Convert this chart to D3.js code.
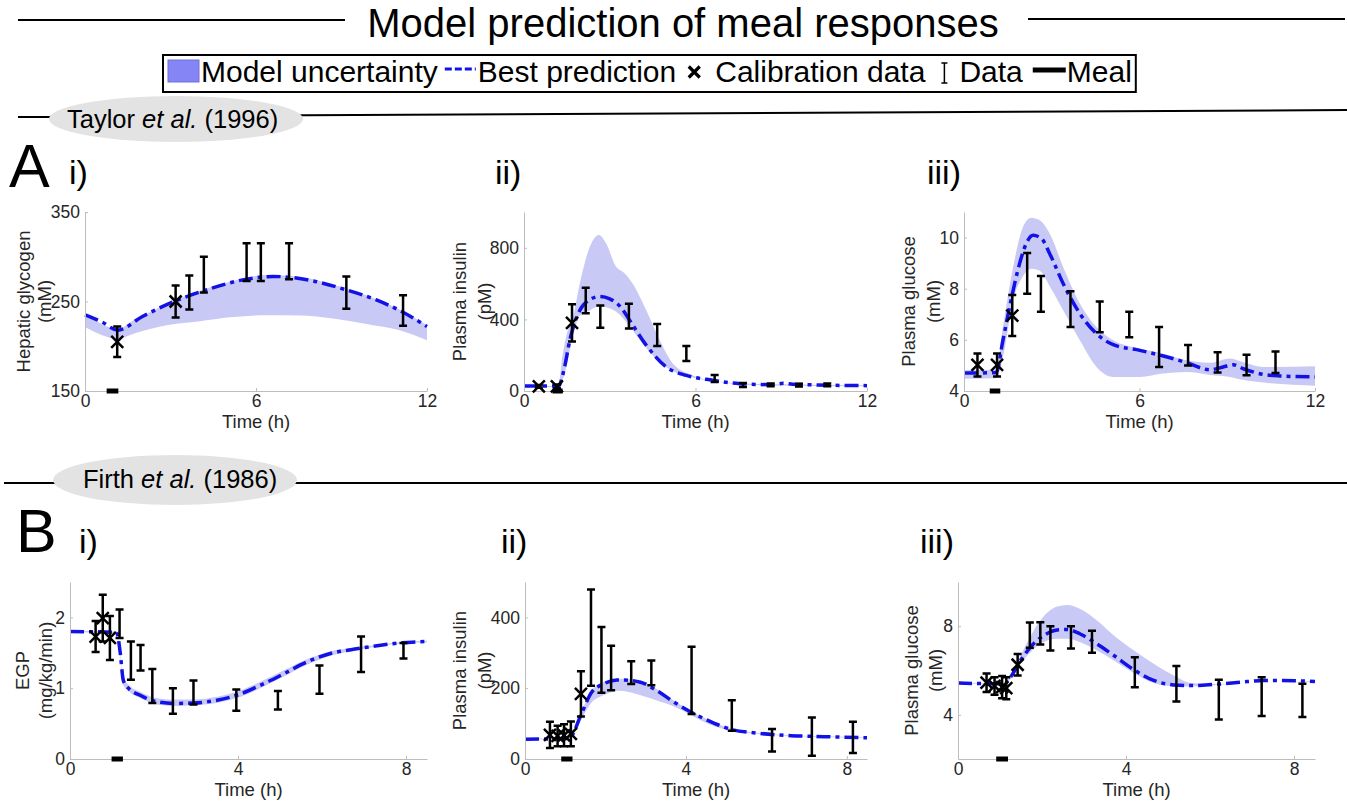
<!DOCTYPE html>
<html>
<head>
<meta charset="utf-8">
<script src="https://cdn.jsdelivr.net/npm/d3@7"></script>
<style>
  body { margin: 0; background: #fff; }
  svg { font-family: "Liberation Sans", Arial, sans-serif; }
  .axis path, .axis line { stroke: #bdbdbd; }
  .axis text { fill: #262626; font-size: 17.5px; font-family: "Liberation Sans", Arial, sans-serif; }
</style>
</head>
<body>
<svg id="fig" width="1347" height="805"></svg>
<script>
'use strict';

// ---------- A i) Taylor, hepatic glycogen ----------
var a1Time = [1.13, 3.18, 3.66, 4.17, 5.67, 6.17, 7.16, 9.17, 11.16];
var a1Mean = [205, 250, 260, 280, 294, 294, 295, 260, 240];
var a1Sd = [17, 18, 19, 20, 21, 21, 20, 18, 17];
var a1NCalib = 2;
var a1PredTime = [0, 0.6, 1.15, 2, 3.2, 4.26, 5.67, 6.6, 7.2, 8, 9.17, 10.2, 11.16, 12];
var a1PredVal = [235, 227, 218, 233, 251, 263, 275, 278, 277, 273, 263, 252, 238, 222];
var a1BandTime = [0, 1.17, 1.7, 2.86, 4.03, 5.2, 6.37, 7.54, 8.7, 9.87, 11.04, 12];
var a1BandLow = [221.5, 208.5, 214, 223.4, 228, 232.6, 234.7, 234.3, 231, 225, 217.8, 206.6];
var a1BandHigh = [236.5, 219.5, 229, 247, 262, 273, 279.5, 277.5, 269, 257, 241, 223.5];
var a1Meal = [0.76, 1.17];

// ---------- A ii) Taylor, plasma insulin ----------
var a2Time = [0.52, 1.15, 1.68, 2.16, 2.67, 3.67, 4.66, 5.68, 6.67, 7.66, 8.63, 9.62, 10.61];
var a2Mean = [26, 26, 380, 506, 416, 418, 313, 209, 70, 33, 34, 33, 34];
var a2Sd = [8, 10, 104, 71, 62, 69, 62, 42, 20, 11, 8, 8, 8];
var a2NCalib = 3;
var a2PredTime = [0, 1.0, 1.2, 1.42, 1.6, 1.75, 1.95, 2.3, 2.65, 3.0, 3.4, 3.7, 4.28, 4.98, 5.68, 6.6, 7.55, 8.7, 9.06, 9.4, 9.9, 12];
var a2PredVal = [28, 28, 25, 134, 283, 370, 450, 510, 528, 515, 465, 394, 255, 134, 87, 60, 41, 35, 43, 38, 35, 30];
var a2BandTime = [0, 1.2, 1.35, 1.5, 1.7, 1.95, 2.3, 2.62, 2.88, 3.2, 3.5, 3.8, 4.28, 4.75, 5.21, 5.91, 6.96, 8, 12];
var a2BandHigh = [30, 28, 200, 320, 400, 599, 804, 872, 822, 700, 660, 600, 450, 283, 152, 87, 50, 40, 32];
var a2BandLow = [24, 22, 60, 150, 300, 420, 450, 473, 468, 445, 400, 340, 240, 160, 110, 75, 48, 33, 26];
var a2Meal = [1.0, 1.35];

// ---------- A iii) Taylor, plasma glucose ----------
var a3Time = [0.46, 1.13, 1.65, 2.16, 2.63, 3.64, 4.64, 5.65, 6.67, 7.66, 8.67, 9.66, 10.65];
var a3Mean = [5.02, 5.02, 6.95, 8.6, 7.8, 7.2, 6.9, 6.6, 5.72, 5.4, 5.12, 5.02, 5.12];
var a3Sd = [0.45, 0.45, 0.8, 0.8, 0.7, 0.7, 0.6, 0.5, 0.78, 0.4, 0.4, 0.4, 0.42];
var a3NCalib = 3;
var a3PredTime = [0, 1.1, 1.33, 1.56, 1.9, 2.13, 2.36, 2.65, 2.93, 3.39, 3.96, 4.53, 5.1, 6.01, 6.81, 7.61, 8.41, 8.86, 9.2, 9.55, 10.23, 10.8, 12];
var a3PredVal = [4.7, 4.72, 5.98, 7.29, 8.98, 9.77, 10.09, 9.96, 9.37, 8.2, 7.03, 6.24, 5.81, 5.59, 5.37, 5.11, 4.83, 4.94, 5.03, 4.87, 4.65, 4.59, 4.55];
var a3BandTime = [0, 1.1, 1.33, 1.68, 2.02, 2.3, 2.59, 2.93, 3.39, 3.96, 4.53, 5.1, 6.01, 6.81, 7.61, 8.41, 9.09, 9.6, 10.23, 12];
var a3BandHigh = [4.81, 4.83, 6.5, 8.85, 10.42, 10.78, 10.68, 10.16, 8.85, 7.42, 6.5, 5.98, 5.66, 5.46, 5.2, 5.1, 5.27, 5.1, 4.94, 4.97];
var a3BandLow = [4.48, 4.5, 5.33, 7.55, 8.5, 8.78, 8.7, 8.1, 7.16, 5.98, 4.94, 4.55, 4.55, 4.68, 4.74, 4.63, 4.55, 4.42, 4.33, 4.21];
var a3Meal = [0.88, 1.24];

// ---------- B i) Firth, EGP ----------
var b1Time = [0.61, 0.78, 0.95, 1.18, 1.45, 1.68, 1.96, 2.45, 2.94, 3.96, 4.95, 5.94, 6.93, 7.94];
var b1Mean = [1.73, 1.99, 1.71, 1.91, 1.39, 1.43, 1.03, 0.82, 0.94, 0.83, 0.83, 1.12, 1.48, 1.53];
var b1Sd = [0.22, 0.33, 0.31, 0.2, 0.27, 0.18, 0.24, 0.18, 0.17, 0.15, 0.13, 0.2, 0.25, 0.11];
var b1NCalib = 3;
var b1PredTime = [0, 1.11, 1.19, 1.27, 1.39, 1.67, 1.99, 2.46, 2.94, 3.5, 3.97, 4.53, 5.08, 5.64, 6.2, 6.75, 7.31, 7.86, 8.5];
var b1PredVal = [1.8, 1.79, 1.53, 1.11, 1.0, 0.9, 0.82, 0.785, 0.79, 0.83, 0.9, 1.04, 1.2, 1.37, 1.49, 1.55, 1.6, 1.64, 1.66];
var b1BandTime = b1PredTime;
var b1BandHigh = [1.81, 1.8, 1.56, 1.15, 1.05, 0.95, 0.87, 0.84, 0.84, 0.88, 0.95, 1.09, 1.25, 1.41, 1.52, 1.57, 1.61, 1.65, 1.67];
var b1BandLow = [1.79, 1.78, 1.5, 1.05, 0.96, 0.86, 0.78, 0.75, 0.76, 0.79, 0.86, 1.0, 1.16, 1.33, 1.46, 1.53, 1.59, 1.63, 1.65];
var b1Meal = [0.99, 1.26];

// ---------- B ii) Firth, plasma insulin ----------
var b2Time = [0.62, 0.81, 0.97, 1.14, 1.39, 1.64, 1.9, 2.14, 2.64, 3.14, 4.14, 5.14, 6.14, 7.13, 8.15];
var b2Mean = [68, 65, 67, 71, 184, 343, 280, 257, 244, 243, 222, 123, 53, 63, 61];
var b2Sd = [37, 29, 31, 35, 64, 136, 93, 63, 32, 35, 95, 43, 32, 54, 44];
var b2NCalib = 5;
var b2PredTime = [0, 1.0, 1.16, 1.37, 1.66, 1.95, 2.29, 2.45, 2.87, 3.28, 3.7, 4.12, 4.53, 5.11, 5.78, 6.61, 7.44, 8.5];
var b2PredVal = [56, 58, 66, 119, 189, 212, 223, 223, 217, 193, 161, 133, 110, 84, 73, 66, 63, 60];
var b2BandTime = b2PredTime;
var b2BandHigh = [57, 59, 68, 124, 194, 217, 227, 227, 221, 197, 165, 136, 112, 86, 74, 67, 64, 61];
var b2BandLow = [55, 57, 62, 105, 160, 180, 193, 192, 180, 165, 148, 124, 100, 80, 71, 65, 62, 59];
var b2Meal = [0.9, 1.18];

// ---------- B iii) Firth, plasma glucose ----------
var b3Time = [0.68, 0.87, 1.05, 1.15, 1.42, 1.71, 1.96, 2.2, 2.69, 3.19, 4.21, 5.2, 6.21, 7.23, 8.2];
var b3Mean = [5.45, 5.3, 5.25, 5.2, 6.26, 7.6, 7.68, 7.45, 7.5, 7.3, 5.92, 5.4, 4.68, 4.82, 4.65];
var b3Sd = [0.42, 0.4, 0.5, 0.5, 0.49, 0.57, 0.5, 0.55, 0.5, 0.5, 0.68, 0.8, 0.9, 0.88, 0.75];
var b3NCalib = 5;
var b3PredTime = [0, 1.11, 1.25, 1.49, 1.72, 2.04, 2.36, 2.6, 2.91, 3.31, 3.71, 4.19, 4.66, 5.14, 5.62, 6.09, 6.89, 7.28, 7.68, 8.5];
var b3PredVal = [5.43, 5.4, 5.7, 6.45, 7.05, 7.58, 7.83, 7.85, 7.65, 7.2, 6.68, 6.03, 5.55, 5.35, 5.32, 5.37, 5.5, 5.55, 5.55, 5.5];
var b3BandTime = [0, 1.11, 1.25, 1.49, 1.96, 2.36, 2.6, 2.91, 3.31, 3.71, 4.19, 4.66, 5.14, 5.55, 6.09, 8.5];
var b3BandHigh = [5.45, 5.42, 5.78, 6.68, 8.26, 8.89, 8.96, 8.78, 8.26, 7.58, 6.9, 6.3, 5.77, 5.43, 5.39, 5.52];
var b3BandLow = [5.41, 5.38, 5.62, 6.3, 7.2, 7.43, 7.43, 7.28, 6.9, 6.45, 5.88, 5.43, 5.28, 5.28, 5.35, 5.48];
var b3Meal = [0.91, 1.19];

// ---------- layout ----------
var bandColor = '#c9c9f5';
var predColor = '#1212e6';
var predDash = '14,5,4,5';
var labelSize = 18.5;

var panels = [
  { box: [85, 427, 212, 391], xDomain: [0, 12], xTicks: [0, 6, 12], yDomain: [150, 350], yTicks: [150, 250, 350],
    yLabel: ['Hepatic glycogen', '(mM)'], labelOff: [-55, -34],
    t: a1Time, m: a1Mean, sd: a1Sd, nCalib: a1NCalib, pt: a1PredTime, pv: a1PredVal,
    bt: a1BandTime, lo: a1BandLow, hi: a1BandHigh, meal: a1Meal },
  { box: [524, 867, 212, 391], xDomain: [0, 12], xTicks: [0, 6, 12], yDomain: [0, 1000], yTicks: [0, 400, 800],
    yLabel: ['Plasma insulin', '(pM)'], labelOff: [-58, -33],
    t: a2Time, m: a2Mean, sd: a2Sd, nCalib: a2NCalib, pt: a2PredTime, pv: a2PredVal,
    bt: a2BandTime, lo: a2BandLow, hi: a2BandHigh, meal: a2Meal },
  { box: [964, 1315, 212, 391], xDomain: [0, 12], xTicks: [0, 6, 12], yDomain: [4, 11], yTicks: [4, 6, 8, 10],
    yLabel: ['Plasma glucose', '(mM)'], labelOff: [-49, -24],
    t: a3Time, m: a3Mean, sd: a3Sd, nCalib: a3NCalib, pt: a3PredTime, pv: a3PredVal,
    bt: a3BandTime, lo: a3BandLow, hi: a3BandHigh, meal: a3Meal },
  { box: [70, 427, 582, 759], xDomain: [0, 8.5], xTicks: [0, 4, 8], yDomain: [0, 2.5], yTicks: [0, 1, 2],
    yLabel: ['EGP', '(mg/kg/min)'], labelOff: [-41, -18],
    t: b1Time, m: b1Mean, sd: b1Sd, nCalib: b1NCalib, pt: b1PredTime, pv: b1PredVal,
    bt: b1BandTime, lo: b1BandLow, hi: b1BandHigh, meal: b1Meal },
  { box: [525, 867, 582, 759], xDomain: [0, 8.5], xTicks: [0, 4, 8], yDomain: [0, 500], yTicks: [0, 200, 400],
    yLabel: ['Plasma insulin', '(pM)'], labelOff: [-59, -34],
    t: b2Time, m: b2Mean, sd: b2Sd, nCalib: b2NCalib, pt: b2PredTime, pv: b2PredVal,
    bt: b2BandTime, lo: b2BandLow, hi: b2BandHigh, meal: b2Meal },
  { box: [958, 1315, 582, 759], xDomain: [0, 8.5], xTicks: [0, 4, 8], yDomain: [2, 10], yTicks: [4, 8],
    yLabel: ['Plasma glucose', '(mM)'], labelOff: [-40, -16],
    t: b3Time, m: b3Mean, sd: b3Sd, nCalib: b3NCalib, pt: b3PredTime, pv: b3PredVal,
    bt: b3BandTime, lo: b3BandLow, hi: b3BandHigh, meal: b3Meal }
];

var svg = d3.select('#fig');

// ---------- title ----------
svg.append('text')
  .attr('x', 683).attr('y', 37)
  .attr('text-anchor', 'middle')
  .style('font-size', '40px')
  .text('Model prediction of meal responses');
svg.append('line').attr('x1', 18).attr('x2', 345).attr('y1', 20).attr('y2', 20)
  .style('stroke', '#000').style('stroke-width', 2);
svg.append('line').attr('x1', 1028).attr('x2', 1345).attr('y1', 19).attr('y2', 19)
  .style('stroke', '#000').style('stroke-width', 2);

// ---------- legend ----------
var lg = svg.append('g');
var lx = 168, ly = 82, lfs = 30;
function legendText(str) {
  var t = lg.append('text').attr('x', lx).attr('y', ly).style('font-size', lfs + 'px').text(str);
  lx += t.node().getComputedTextLength();
}
lg.append('rect').attr('x', lx).attr('y', 60).attr('width', 31).attr('height', 22)
  .style('fill', '#8585f5').style('stroke', '#7070d8');
lx += 33;
legendText('Model uncertainty');
lx += 7;
lg.append('line').attr('x1', lx).attr('x2', lx + 31).attr('y1', 69).attr('y2', 69)
  .style('stroke', predColor).style('stroke-width', 3).style('stroke-dasharray', '7,3');
lx += 33;
legendText('Best prediction');
lx += 12;
lg.append('path').attr('transform', 'translate(' + (lx + 6) + ',72)')
  .attr('d', 'M-5.5,-5.5L5.5,5.5M-5.5,5.5L5.5,-5.5')
  .style('stroke', '#000').style('stroke-width', 3.2).style('fill', 'none');
lx += 27;
legendText('Calibration data');
lx += 19;
lg.append('path').attr('transform', 'translate(' + lx + ',0)')
  .attr('d', 'M-3,63L3,63M0,63L0,83M-3,83L3,83')
  .style('stroke', '#000').style('stroke-width', 1.5).style('fill', 'none');
lx += 15;
legendText('Data');
lx += 10;
lg.append('line').attr('x1', lx).attr('x2', lx + 33).attr('y1', 70).attr('y2', 70)
  .style('stroke', '#000').style('stroke-width', 5);
lx += 34;
legendText('Meal');
lg.append('rect').attr('x', 163).attr('y', 55).attr('width', lx + 4 - 163).attr('height', 37)
  .style('fill', 'none').style('stroke', '#000').style('stroke-width', 2);

// ---------- section headers ----------
function sectionHeader(cx, cy, rx, ry, lineY1, lineY2, tx, ty, author, year) {
  svg.append('line').attr('x1', lineY1[0]).attr('x2', cx).attr('y1', lineY1[1]).attr('y2', lineY1[1])
    .style('stroke', '#000').style('stroke-width', 2);
  svg.append('line').attr('x1', cx).attr('x2', 1347).attr('y1', lineY2[0]).attr('y2', lineY2[1])
    .style('stroke', '#000').style('stroke-width', 2);
  svg.append('ellipse').attr('cx', cx).attr('cy', cy).attr('rx', rx).attr('ry', ry)
    .style('fill', '#e3e3e3');
  var t = svg.append('text').attr('x', tx).attr('y', ty).style('font-size', '25.5px');
  t.append('tspan').text(author + ' ');
  t.append('tspan').style('font-style', 'italic').text('et al.');
  t.append('tspan').text(' (' + year + ')');
}
sectionHeader(176, 119, 127, 23, [18, 117], [116, 110], 67, 128, 'Taylor', '1996');
sectionHeader(175, 480, 122, 25, [4, 483], [483, 483], 83, 488, 'Firth', '1986');

// ---------- panel letters ----------
function label(x, y, size, str) {
  svg.append('text').attr('x', x).attr('y', y).style('font-size', size + 'px').text(str);
}
label(9, 187, 61, 'A');
label(69, 184, 34, 'i)');
label(495, 184, 34, 'ii)');
label(927, 184, 34, 'iii)');
label(16, 552, 61, 'B');
label(79, 553, 34, 'i)');
label(501, 553, 34, 'ii)');
label(920, 553, 34, 'iii)');

// ---------- panels ----------
function drawPanel(p) {
  var left = p.box[0], right = p.box[1], top = p.box[2], bottom = p.box[3];
  var x = d3.scaleLinear().domain(p.xDomain).range([left, right]);
  var y = d3.scaleLinear().domain(p.yDomain).range([bottom, top]);
  var g = svg.append('g');

  var bandData = p.bt.map(function(t, i) { return { t: t, lo: p.lo[i], hi: p.hi[i] }; });
  var area = d3.area()
    .x(function(d) { return x(d.t); })
    .y0(function(d) { return y(d.lo); })
    .y1(function(d) { return y(d.hi); })
    .curve(d3.curveMonotoneX);
  g.append('path').datum(bandData).attr('d', area).style('fill', bandColor).style('stroke', 'none');

  var predData = p.pt.map(function(t, i) { return { t: t, v: p.pv[i] }; });
  var line = d3.line()
    .x(function(d) { return x(d.t); })
    .y(function(d) { return y(d.v); })
    .curve(d3.curveMonotoneX);
  g.append('path').datum(predData).attr('d', line)
    .style('fill', 'none').style('stroke', predColor).style('stroke-width', 3.5)
    .style('stroke-dasharray', predDash);

  g.append('g').attr('class', 'axis')
    .attr('transform', 'translate(0,' + bottom + ')')
    .call(d3.axisBottom(x).tickValues(p.xTicks).tickSizeInner(-3).tickSizeOuter(0).tickPadding(4)
      .tickFormat(d3.format('d')));
  g.append('g').attr('class', 'axis')
    .attr('transform', 'translate(' + left + ',0)')
    .call(d3.axisLeft(y).tickValues(p.yTicks).tickSizeInner(-3).tickSizeOuter(0).tickPadding(5)
      .tickFormat(d3.format('d')));

  var pts = p.t.map(function(t, i) { return { t: t, m: p.m[i], sd: p.sd[i], calib: i < p.nCalib }; });
  g.selectAll('.ebar').data(pts).enter().append('path')
    .attr('d', function(d) {
      var cx = x(d.t), y1 = y(d.m - d.sd), y2 = y(d.m + d.sd);
      return 'M' + (cx - 4) + ',' + y1 + 'L' + (cx + 4) + ',' + y1 +
        'M' + cx + ',' + y1 + 'L' + cx + ',' + y2 +
        'M' + (cx - 4) + ',' + y2 + 'L' + (cx + 4) + ',' + y2;
    })
    .style('fill', 'none').style('stroke', '#000').style('stroke-width', 2.5);
  g.selectAll('.cal').data(pts.filter(function(d) { return d.calib; })).enter().append('path')
    .attr('transform', function(d) { return 'translate(' + x(d.t) + ',' + y(d.m) + ')'; })
    .attr('d', 'M-6,-6L6,6M-6,6L6,-6')
    .style('fill', 'none').style('stroke', '#000').style('stroke-width', 2.5);

  g.append('rect')
    .attr('x', x(p.meal[0])).attr('y', bottom - 2.5)
    .attr('width', x(p.meal[1]) - x(p.meal[0])).attr('height', 5)
    .style('fill', '#000');

  g.append('text')
    .attr('x', (left + right) / 2).attr('y', bottom + 37)
    .attr('text-anchor', 'middle').style('font-size', labelSize + 'px').style('fill', '#262626')
    .text('Time (h)');
  p.yLabel.forEach(function(str, i) {
    g.append('text')
      .attr('transform', 'translate(' + (left + p.labelOff[i]) + ',' + ((top + bottom) / 2) + ') rotate(-90)')
      .attr('text-anchor', 'middle').style('font-size', labelSize + 'px').style('fill', '#262626')
      .text(str);
  });
}
panels.forEach(drawPanel);
</script>
</body>
</html>
